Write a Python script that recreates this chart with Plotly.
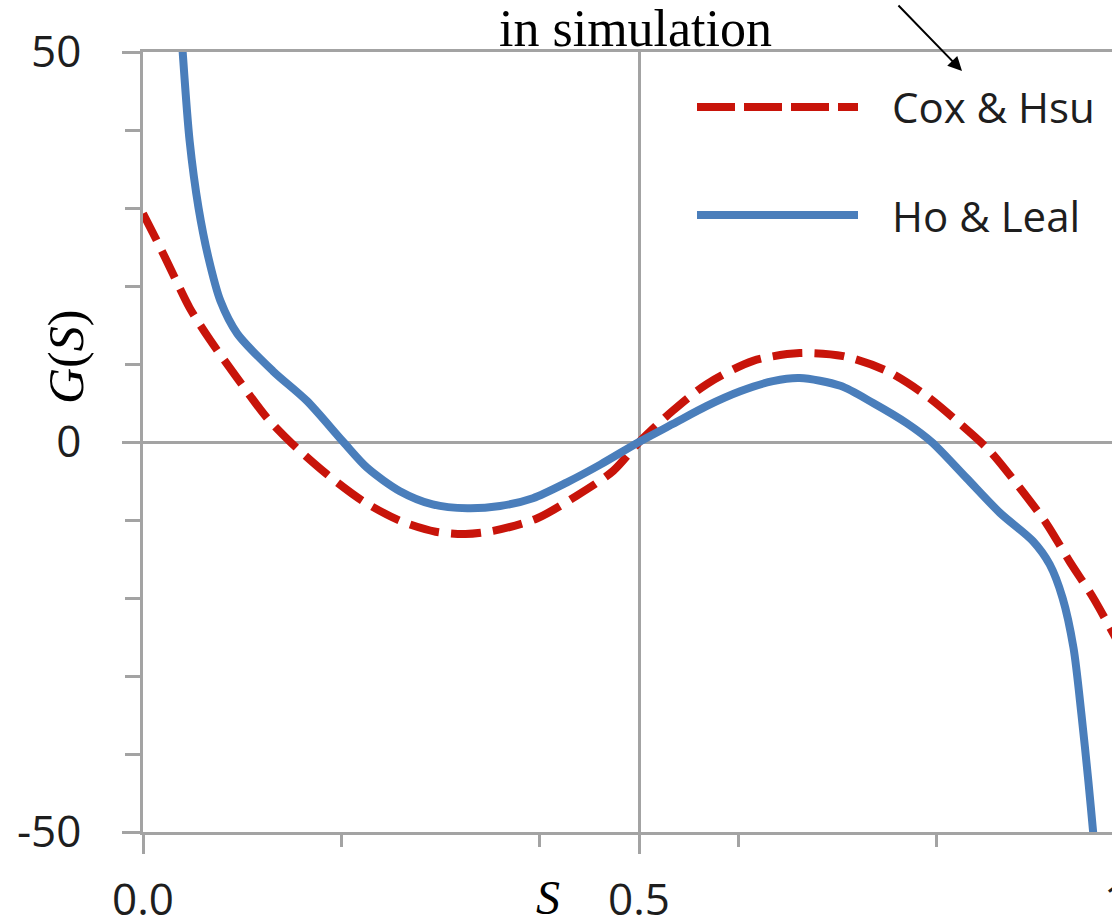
import plotly.graph_objects as go

# ---- data ----
cox_s = [0.0, 0.014, 0.030, 0.047, 0.068, 0.095, 0.125, 0.151, 0.185, 0.222, 0.259,
         0.295, 0.325, 0.353, 0.397, 0.437, 0.474, 0.501, 0.534, 0.568, 0.615, 0.662,
         0.706, 0.750, 0.790, 0.824, 0.854, 0.884, 0.911, 0.934, 0.958, 0.977, 1.0]
cox_g = [29.3, 25.8, 21.6, 17.2, 13.0, 8.2, 3.1, -0.3, -4.1, -7.6, -10.1,
         -11.5, -11.8, -11.4, -9.8, -6.9, -3.7, 0.1, 4.0, 7.4, 10.4, 11.4,
         11.0, 9.1, 5.9, 2.3, -1.2, -5.9, -10.5, -15.3, -20.0, -24.3, -29.5]

ho_s = [0.036, 0.040, 0.047, 0.056, 0.066, 0.078, 0.095, 0.131, 0.165, 0.202, 0.226,
        0.259, 0.292, 0.327, 0.360, 0.393, 0.427, 0.461, 0.500, 0.534, 0.568, 0.602,
        0.635, 0.662, 0.703, 0.736, 0.770, 0.795, 0.830, 0.864, 0.897, 0.914, 0.927,
        0.938, 0.946, 0.953, 0.958, 0.962]
ho_g = [58.0, 50.0, 38.6, 30.0, 23.6, 18.1, 13.9, 9.1, 5.3, 0.0, -3.3,
        -6.3, -8.0, -8.5, -8.2, -7.2, -5.2, -2.9, 0.0, 2.3, 4.6, 6.5,
        7.8, 8.2, 7.2, 5.0, 2.4, 0.0, -4.6, -9.1, -12.7, -15.7, -20.0,
        -26.4, -34.9, -43.5, -50.3, -56.0]

series_names = ["Cox &amp; Hsu", "Ho &amp; Leal"]
x_major = [0.0, 0.5]
x_major_text = ["0.0", "0.5"]
x_minor = [0.2, 0.4, 0.6, 0.8]
y_major = [-50, 0, 50]
y_major_text = ["-50", "0", "50"]
y_minor = [-40, -30, -20, -10, 10, 20, 30, 40]

RED = "#C8140A"
BLUE = "#4A7EBB"
GRID = "#A3A3A3"
TXT = "#1E1E1E"

W, H = 1112, 915
L, R, T, B = 143, 0, 52, 83
XMAX = (W - L) / 992.0  # visible portion of 0..1 axis

fig = go.Figure()
fig.add_trace(go.Scatter(x=cox_s, y=cox_g, mode="lines", name="Cox & Hsu",
                         line=dict(color=RED, width=8, dash="30px,12px",
                                   shape="spline", smoothing=0.8)))
fig.add_trace(go.Scatter(x=ho_s, y=ho_g, mode="lines", name="Ho & Leal",
                         line=dict(color=BLUE, width=8, shape="spline", smoothing=0.8)))

fig.update_layout(
    width=W, height=H,
    margin=dict(l=L, r=R, t=T, b=B, pad=0, autoexpand=False),
    paper_bgcolor="white", plot_bgcolor="white",
    showlegend=False,
    font=dict(family="Open Sans", color=TXT),
)
fig.update_xaxes(
    automargin=False,
    range=[0, XMAX], tickmode="array", tickvals=x_major, ticktext=x_major_text,
    ticks="outside", ticklen=19, tickwidth=2.5, tickcolor=GRID,
    showgrid=True, gridcolor=GRID, gridwidth=2.5, zeroline=False,
    showline=True, linecolor=GRID, linewidth=2.5, mirror=True,
    tickfont=dict(family="Open Sans", size=44, color=TXT),
    ticklabelstandoff=8,
    minor=dict(tickmode="array", tickvals=x_minor, ticks="outside", ticklen=12,
               tickwidth=2.5, tickcolor=GRID, showgrid=False),
)
fig.update_yaxes(
    automargin=False,
    range=[-50, 50], tickmode="array", tickvals=y_major, ticktext=y_major_text,
    ticks="outside", ticklen=18, tickwidth=2.5, tickcolor=GRID,
    showgrid=True, gridcolor=GRID, gridwidth=2.5, zeroline=False,
    showline=True, linecolor=GRID, linewidth=2.5,
    tickfont=dict(family="Open Sans", size=44, color=TXT),
    ticklabelstandoff=32,
    minor=dict(tickmode="array", tickvals=y_minor, ticks="outside", ticklen=15,
               tickwidth=2.5, tickcolor=GRID, showgrid=False),
)

pw, ph = W - L - R, H - T - B
def px(xp):
    return (xp - L) / pw
def py(yp):
    return (H - B - yp) / ph

ann = []
# top text and arrow
ann.append(dict(text="in simulation", xref="paper", yref="paper", x=px(635), y=py(28),
                xanchor="center", yanchor="middle", showarrow=False,
                font=dict(family="Liberation Serif", size=52, color="black")))
ann.append(dict(text="", xref="paper", yref="paper", x=px(962), y=py(71),
                ax=-65, ay=-67, showarrow=True, arrowhead=2, arrowsize=1.4,
                arrowwidth=2, arrowcolor="black", standoff=0))
# axis titles
ann.append(dict(text="<i>G</i>(<i>S</i>)", xref="paper", yref="paper", x=px(66), y=py(357),
                textangle=-90, xanchor="center", yanchor="middle", showarrow=False,
                font=dict(family="Liberation Serif", size=50, color="black")))
ann.append(dict(text="<i>S</i>", xref="paper", yref="paper", x=px(548), y=py(898),
                xanchor="center", yanchor="middle", showarrow=False,
                font=dict(family="Liberation Serif", size=48, color="black")))
# partially visible "1.0" tick label at S=1 (beyond the cropped edge)
ann.append(dict(text="1.0", xref="paper", yref="paper", x=1.0 / XMAX, y=py(898),
                xanchor="center", yanchor="middle", showarrow=False,
                font=dict(family="Open Sans", size=44, color=TXT)))

# legend (drawn manually to match the long sample lines)
leg_y = [107, 215]
leg_col = [RED, BLUE]
leg_dash = ["38px,9px", "solid"]
shapes = []
for name, yy, c, d in zip(series_names, leg_y, leg_col, leg_dash):
    shapes.append(dict(type="line", xref="paper", yref="paper",
                       x0=px(697), x1=px(858), y0=py(yy), y1=py(yy),
                       line=dict(color=c, width=8, dash=d)))
    ann.append(dict(text=name, xref="paper", yref="paper", x=px(890), y=py(yy),
                    xanchor="left", yanchor="middle", showarrow=False,
                    font=dict(family="Open Sans", size=42, color=TXT)))

fig.update_layout(annotations=ann, shapes=shapes)
fig.write_html("out.html")
